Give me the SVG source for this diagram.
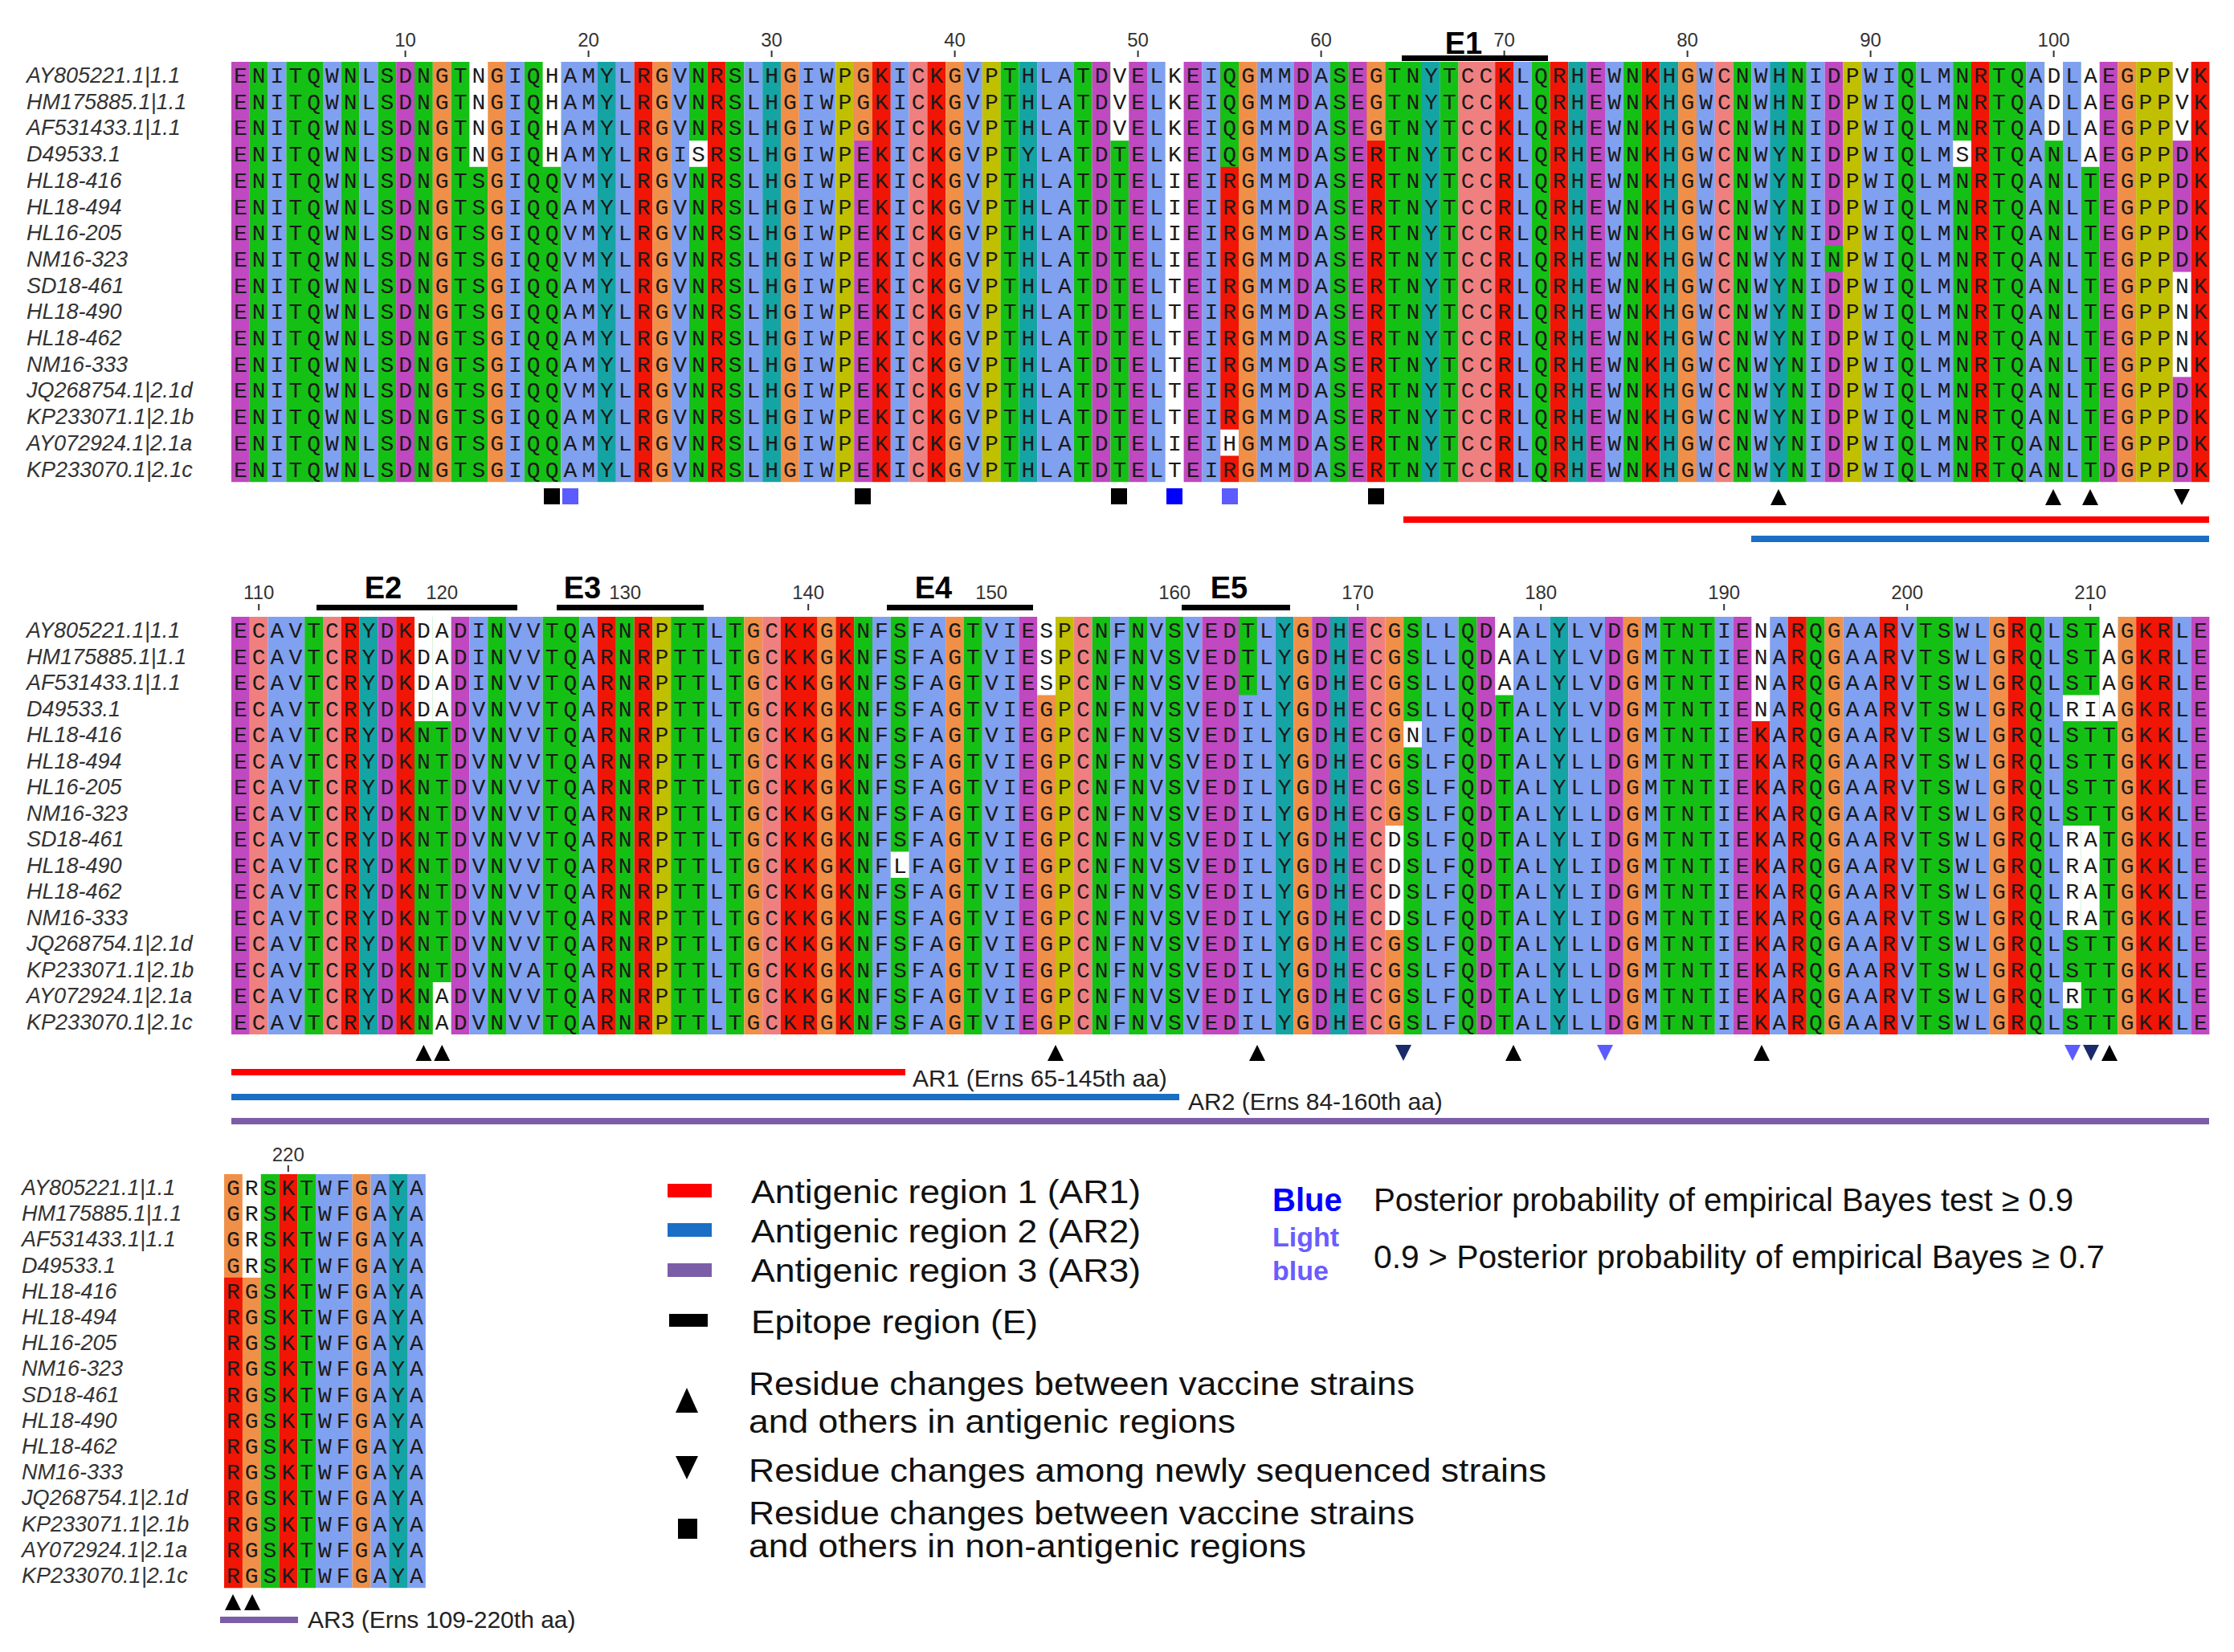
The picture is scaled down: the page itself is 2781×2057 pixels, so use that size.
<svg xmlns="http://www.w3.org/2000/svg" width="2781" height="2057" viewBox="0 0 2781 2057">
<style>
.m{fill:#c048c0}.g{fill:#15c015}.b{fill:#80a0f0}.o{fill:#f09048}.c{fill:#15a4a4}.r{fill:#f01505}.y{fill:#c0c000}.p{fill:#f08080}.w{fill:#ffffff}
.seq{font-family:"Liberation Mono",monospace;font-size:28px;letter-spacing:6px;fill:#1a1a1a}
.lbl{font-family:"Liberation Sans",Arial,sans-serif;font-size:27px;font-style:italic;fill:#333}
.num{font-family:"Liberation Sans",Arial,sans-serif;font-size:24px;fill:#333;text-anchor:middle}
.ep{font-family:"Liberation Sans",Arial,sans-serif;font-size:38px;font-weight:bold;fill:#000;text-anchor:middle}
.ar{font-family:"Liberation Sans",Arial,sans-serif;font-size:30px;fill:#222}
.leg{font-family:"Liberation Sans",Arial,sans-serif;font-size:40px;fill:#111}
.tk{stroke:#333;stroke-width:2}
</style>
<rect width="2781" height="2057" fill="#fff"/>
<g id="block1">
<g transform="translate(288,77) scale(22.8,32.7)">
<rect class="m" x="0" y="0" width="1" height="16"/><rect class="g" x="1" y="0" width="1" height="16"/><rect class="b" x="2" y="0" width="1" height="16"/><rect class="g" x="3" y="0" width="2" height="16"/><rect class="b" x="5" y="0" width="1" height="16"/><rect class="g" x="6" y="0" width="1" height="16"/><rect class="b" x="7" y="0" width="1" height="16"/><rect class="g" x="8" y="0" width="1" height="16"/><rect class="m" x="9" y="0" width="1" height="16"/><rect class="g" x="10" y="0" width="1" height="16"/><rect class="o" x="11" y="0" width="1" height="16"/><rect class="g" x="12" y="0" width="2" height="16"/><rect class="o" x="14" y="0" width="1" height="16"/><rect class="b" x="15" y="0" width="1" height="16"/><rect class="g" x="16" y="0" width="2" height="16"/><rect class="b" x="18" y="0" width="2" height="16"/><rect class="c" x="20" y="0" width="1" height="16"/><rect class="b" x="21" y="0" width="1" height="16"/><rect class="r" x="22" y="0" width="1" height="16"/><rect class="o" x="23" y="0" width="1" height="16"/><rect class="b" x="24" y="0" width="1" height="16"/><rect class="g" x="25" y="0" width="1" height="16"/><rect class="r" x="26" y="0" width="1" height="16"/><rect class="g" x="27" y="0" width="1" height="16"/><rect class="b" x="28" y="0" width="1" height="16"/><rect class="c" x="29" y="0" width="1" height="16"/><rect class="o" x="30" y="0" width="1" height="16"/><rect class="b" x="31" y="0" width="2" height="16"/><rect class="y" x="33" y="0" width="1" height="16"/><rect class="m" x="34" y="0" width="1" height="16"/><rect class="r" x="35" y="0" width="1" height="16"/><rect class="b" x="36" y="0" width="1" height="16"/><rect class="p" x="37" y="0" width="1" height="16"/><rect class="r" x="38" y="0" width="1" height="16"/><rect class="o" x="39" y="0" width="1" height="16"/><rect class="b" x="40" y="0" width="1" height="16"/><rect class="y" x="41" y="0" width="1" height="16"/><rect class="g" x="42" y="0" width="1" height="16"/><rect class="c" x="43" y="0" width="1" height="16"/><rect class="b" x="44" y="0" width="2" height="16"/><rect class="g" x="46" y="0" width="1" height="16"/><rect class="m" x="47" y="0" width="1" height="16"/><rect class="g" x="48" y="0" width="1" height="16"/><rect class="m" x="49" y="0" width="1" height="16"/><rect class="b" x="50" y="0" width="1" height="16"/><rect class="w" x="51" y="0" width="1" height="16"/><rect class="m" x="52" y="0" width="1" height="16"/><rect class="b" x="53" y="0" width="1" height="16"/><rect class="r" x="54" y="0" width="1" height="16"/><rect class="o" x="55" y="0" width="1" height="16"/><rect class="b" x="56" y="0" width="2" height="16"/><rect class="m" x="58" y="0" width="1" height="16"/><rect class="b" x="59" y="0" width="1" height="16"/><rect class="g" x="60" y="0" width="1" height="16"/><rect class="m" x="61" y="0" width="1" height="16"/><rect class="r" x="62" y="0" width="1" height="16"/><rect class="g" x="63" y="0" width="2" height="16"/><rect class="c" x="65" y="0" width="1" height="16"/><rect class="g" x="66" y="0" width="1" height="16"/><rect class="p" x="67" y="0" width="2" height="16"/><rect class="r" x="69" y="0" width="1" height="16"/><rect class="b" x="70" y="0" width="1" height="16"/><rect class="g" x="71" y="0" width="1" height="16"/><rect class="r" x="72" y="0" width="1" height="16"/><rect class="c" x="73" y="0" width="1" height="16"/><rect class="m" x="74" y="0" width="1" height="16"/><rect class="b" x="75" y="0" width="1" height="16"/><rect class="g" x="76" y="0" width="1" height="16"/><rect class="r" x="77" y="0" width="1" height="16"/><rect class="c" x="78" y="0" width="1" height="16"/><rect class="o" x="79" y="0" width="1" height="16"/><rect class="b" x="80" y="0" width="1" height="16"/><rect class="p" x="81" y="0" width="1" height="16"/><rect class="g" x="82" y="0" width="1" height="16"/><rect class="b" x="83" y="0" width="1" height="16"/><rect class="c" x="84" y="0" width="1" height="16"/><rect class="g" x="85" y="0" width="1" height="16"/><rect class="b" x="86" y="0" width="1" height="16"/><rect class="m" x="87" y="0" width="1" height="16"/><rect class="y" x="88" y="0" width="1" height="16"/><rect class="b" x="89" y="0" width="2" height="16"/><rect class="g" x="91" y="0" width="1" height="16"/><rect class="b" x="92" y="0" width="2" height="16"/><rect class="g" x="94" y="0" width="1" height="16"/><rect class="r" x="95" y="0" width="1" height="16"/><rect class="g" x="96" y="0" width="2" height="16"/><rect class="b" x="98" y="0" width="1" height="16"/><rect class="g" x="99" y="0" width="1" height="16"/><rect class="b" x="100" y="0" width="1" height="16"/><rect class="g" x="101" y="0" width="1" height="16"/><rect class="m" x="102" y="0" width="1" height="16"/><rect class="o" x="103" y="0" width="1" height="16"/><rect class="y" x="104" y="0" width="2" height="16"/><rect class="m" x="106" y="0" width="1" height="16"/><rect class="r" x="107" y="0" width="1" height="16"/>
<rect class="w" x="13" y="0" width="1" height="4"/><rect class="w" x="17" y="0" width="1" height="4"/><rect class="w" x="25" y="3" width="1" height="1"/><rect class="o" x="34" y="0" width="1" height="3"/><rect class="w" x="48" y="0" width="1" height="3"/><rect class="g" x="54" y="0" width="1" height="4"/><rect class="w" x="54" y="14" width="1" height="1"/><rect class="o" x="62" y="0" width="1" height="3"/><rect class="g" x="87" y="7" width="1" height="1"/><rect class="w" x="94" y="3" width="1" height="1"/><rect class="w" x="99" y="0" width="1" height="3"/><rect class="w" x="101" y="0" width="1" height="4"/><rect class="w" x="106" y="0" width="1" height="3"/><rect class="w" x="106" y="8" width="1" height="4"/>
</g>
<text class="seq" x="291" y="103">ENITQWNLSDNGTNGIQHAMYLRGVNRSLHGIWPGKICKGVPTHLATDVELKEIQGMMDASEGTNYTCCKLQRHEWNKHGWCNWHNIDPWIQLMNRTQADLAEGPPVK</text>
<text class="seq" x="291" y="135.7">ENITQWNLSDNGTNGIQHAMYLRGVNRSLHGIWPGKICKGVPTHLATDVELKEIQGMMDASEGTNYTCCKLQRHEWNKHGWCNWHNIDPWIQLMNRTQADLAEGPPVK</text>
<text class="seq" x="291" y="168.4">ENITQWNLSDNGTNGIQHAMYLRGVNRSLHGIWPGKICKGVPTHLATDVELKEIQGMMDASEGTNYTCCKLQRHEWNKHGWCNWHNIDPWIQLMNRTQADLAEGPPVK</text>
<text class="seq" x="291" y="201.1">ENITQWNLSDNGTNGIQHAMYLRGISRSLHGIWPEKICKGVPTYLATDTELKEIQGMMDASERTNYTCCKLQRHEWNKHGWCNWYNIDPWIQLMSRTQANLAEGPPDK</text>
<text class="seq" x="291" y="233.8">ENITQWNLSDNGTSGIQQVMYLRGVNRSLHGIWPEKICKGVPTHLATDTELIEIRGMMDASERTNYTCCRLQRHEWNKHGWCNWYNIDPWIQLMNRTQANLTEGPPDK</text>
<text class="seq" x="291" y="266.5">ENITQWNLSDNGTSGIQQAMYLRGVNRSLHGIWPEKICKGVPTHLATDTELIEIRGMMDASERTNYTCCRLQRHEWNKHGWCNWYNIDPWIQLMNRTQANLTEGPPDK</text>
<text class="seq" x="291" y="299.2">ENITQWNLSDNGTSGIQQVMYLRGVNRSLHGIWPEKICKGVPTHLATDTELIEIRGMMDASERTNYTCCRLQRHEWNKHGWCNWYNIDPWIQLMNRTQANLTEGPPDK</text>
<text class="seq" x="291" y="331.9">ENITQWNLSDNGTSGIQQVMYLRGVNRSLHGIWPEKICKGVPTHLATDTELIEIRGMMDASERTNYTCCRLQRHEWNKHGWCNWYNINPWIQLMNRTQANLTEGPPDK</text>
<text class="seq" x="291" y="364.6">ENITQWNLSDNGTSGIQQAMYLRGVNRSLHGIWPEKICKGVPTHLATDTELTEIRGMMDASERTNYTCCRLQRHEWNKHGWCNWYNIDPWIQLMNRTQANLTEGPPNK</text>
<text class="seq" x="291" y="397.3">ENITQWNLSDNGTSGIQQAMYLRGVNRSLHGIWPEKICKGVPTHLATDTELTEIRGMMDASERTNYTCCRLQRHEWNKHGWCNWYNIDPWIQLMNRTQANLTEGPPNK</text>
<text class="seq" x="291" y="430">ENITQWNLSDNGTSGIQQAMYLRGVNRSLHGIWPEKICKGVPTHLATDTELTEIRGMMDASERTNYTCCRLQRHEWNKHGWCNWYNIDPWIQLMNRTQANLTEGPPNK</text>
<text class="seq" x="291" y="462.7">ENITQWNLSDNGTSGIQQAMYLRGVNRSLHGIWPEKICKGVPTHLATDTELTEIRGMMDASERTNYTCCRLQRHEWNKHGWCNWYNIDPWIQLMNRTQANLTEGPPNK</text>
<text class="seq" x="291" y="495.4">ENITQWNLSDNGTSGIQQVMYLRGVNRSLHGIWPEKICKGVPTHLATDTELTEIRGMMDASERTNYTCCRLQRHEWNKHGWCNWYNIDPWIQLMNRTQANLTEGPPDK</text>
<text class="seq" x="291" y="528.1">ENITQWNLSDNGTSGIQQAMYLRGVNRSLHGIWPEKICKGVPTHLATDTELTEIRGMMDASERTNYTCCRLQRHEWNKHGWCNWYNIDPWIQLMNRTQANLTEGPPDK</text>
<text class="seq" x="291" y="560.8">ENITQWNLSDNGTSGIQQAMYLRGVNRSLHGIWPEKICKGVPTHLATDTELIEIHGMMDASERTNYTCCRLQRHEWNKHGWCNWYNIDPWIQLMNRTQANLTEGPPDK</text>
<text class="seq" x="291" y="593.5">ENITQWNLSDNGTSGIQQAMYLRGVNRSLHGIWPEKICKGVPTHLATDTELTEIRGMMDASERTNYTCCRLQRHEWNKHGWCNWYNIDPWIQLMNRTQANLTDGPPDK</text>
</g>
<g id="labels1" class="lbl">
<text x="33" y="103">AY805221.1|1.1</text><text x="33" y="135.7">HM175885.1|1.1</text><text x="33" y="168.4">AF531433.1|1.1</text><text x="33" y="201.1">D49533.1</text><text x="33" y="233.8">HL18-416</text><text x="33" y="266.5">HL18-494</text><text x="33" y="299.2">HL16-205</text><text x="33" y="331.9">NM16-323</text><text x="33" y="364.6">SD18-461</text><text x="33" y="397.3">HL18-490</text><text x="33" y="430">HL18-462</text><text x="33" y="462.7">NM16-333</text><text x="33" y="495.4">JQ268754.1|2.1d</text><text x="33" y="528.1">KP233071.1|2.1b</text><text x="33" y="560.8">AY072924.1|2.1a</text><text x="33" y="593.5">KP233070.1|2.1c</text>
</g>
<g id="ruler1">
<text class="num" x="504.6" y="58">10</text><text class="num" x="732.6" y="58">20</text><text class="num" x="960.6" y="58">30</text><text class="num" x="1188.6" y="58">40</text><text class="num" x="1416.6" y="58">50</text><text class="num" x="1644.6" y="58">60</text><text class="num" x="1872.6" y="58">70</text><text class="num" x="2100.6" y="58">80</text><text class="num" x="2328.6" y="58">90</text><text class="num" x="2556.6" y="58">100</text>
<path class="tk" d="M504.6 63v8M732.6 63v8M960.6 63v8M1188.6 63v8M1416.6 63v8M1644.6 63v8M1872.6 63v8M2100.6 63v8M2328.6 63v8M2556.6 63v8"/>
<rect x="1745" y="69" width="182" height="7" fill="#000"/><text class="ep" x="1822" y="67">E1</text>
</g>
<g id="marks1">
<rect x="677" y="608" width="20" height="20" fill="#000"/><rect x="700" y="608" width="20" height="20" fill="#5b5bff"/><rect x="1064" y="608" width="20" height="20" fill="#000"/><rect x="1383" y="608" width="20" height="20" fill="#000"/><rect x="1452" y="608" width="20" height="20" fill="#0000ff"/><rect x="1521" y="608" width="20" height="20" fill="#5b5bff"/><rect x="1703" y="608" width="20" height="20" fill="#000"/>
<path d="M2214 609l10 20h-20zM2556 609l10 20h-20zM2602 609l10 20h-20z" fill="#000"/><path d="M2706 609h20l-10 20z" fill="#000"/>
<rect x="1747" y="643" width="1003" height="8" fill="#ff0000"/><rect x="2180" y="667" width="570" height="8" fill="#1a6fc4"/>
</g>
<g id="block2">
<g transform="translate(288,768) scale(22.8,32.5)">
<rect class="m" x="0" y="0" width="1" height="16"/><rect class="p" x="1" y="0" width="1" height="16"/><rect class="b" x="2" y="0" width="2" height="16"/><rect class="g" x="4" y="0" width="1" height="16"/><rect class="p" x="5" y="0" width="1" height="16"/><rect class="r" x="6" y="0" width="1" height="16"/><rect class="c" x="7" y="0" width="1" height="16"/><rect class="m" x="8" y="0" width="1" height="16"/><rect class="r" x="9" y="0" width="1" height="16"/><rect class="g" x="10" y="0" width="2" height="16"/><rect class="m" x="12" y="0" width="1" height="16"/><rect class="b" x="13" y="0" width="1" height="16"/><rect class="g" x="14" y="0" width="1" height="16"/><rect class="b" x="15" y="0" width="2" height="16"/><rect class="g" x="17" y="0" width="2" height="16"/><rect class="b" x="19" y="0" width="1" height="16"/><rect class="r" x="20" y="0" width="1" height="16"/><rect class="g" x="21" y="0" width="1" height="16"/><rect class="r" x="22" y="0" width="1" height="16"/><rect class="y" x="23" y="0" width="1" height="16"/><rect class="g" x="24" y="0" width="2" height="16"/><rect class="b" x="26" y="0" width="1" height="16"/><rect class="g" x="27" y="0" width="1" height="16"/><rect class="o" x="28" y="0" width="1" height="16"/><rect class="p" x="29" y="0" width="1" height="16"/><rect class="r" x="30" y="0" width="2" height="16"/><rect class="o" x="32" y="0" width="1" height="16"/><rect class="r" x="33" y="0" width="1" height="16"/><rect class="g" x="34" y="0" width="1" height="16"/><rect class="b" x="35" y="0" width="1" height="16"/><rect class="g" x="36" y="0" width="1" height="16"/><rect class="b" x="37" y="0" width="2" height="16"/><rect class="o" x="39" y="0" width="1" height="16"/><rect class="g" x="40" y="0" width="1" height="16"/><rect class="b" x="41" y="0" width="2" height="16"/><rect class="m" x="43" y="0" width="1" height="16"/><rect class="o" x="44" y="0" width="1" height="16"/><rect class="y" x="45" y="0" width="1" height="16"/><rect class="p" x="46" y="0" width="1" height="16"/><rect class="g" x="47" y="0" width="1" height="16"/><rect class="b" x="48" y="0" width="1" height="16"/><rect class="g" x="49" y="0" width="1" height="16"/><rect class="b" x="50" y="0" width="1" height="16"/><rect class="g" x="51" y="0" width="1" height="16"/><rect class="b" x="52" y="0" width="1" height="16"/><rect class="m" x="53" y="0" width="2" height="16"/><rect class="b" x="55" y="0" width="2" height="16"/><rect class="c" x="57" y="0" width="1" height="16"/><rect class="o" x="58" y="0" width="1" height="16"/><rect class="m" x="59" y="0" width="1" height="16"/><rect class="c" x="60" y="0" width="1" height="16"/><rect class="m" x="61" y="0" width="1" height="16"/><rect class="p" x="62" y="0" width="1" height="16"/><rect class="o" x="63" y="0" width="1" height="16"/><rect class="g" x="64" y="0" width="1" height="16"/><rect class="b" x="65" y="0" width="2" height="16"/><rect class="g" x="67" y="0" width="1" height="16"/><rect class="m" x="68" y="0" width="1" height="16"/><rect class="g" x="69" y="0" width="1" height="16"/><rect class="b" x="70" y="0" width="2" height="16"/><rect class="c" x="72" y="0" width="1" height="16"/><rect class="b" x="73" y="0" width="2" height="16"/><rect class="m" x="75" y="0" width="1" height="16"/><rect class="o" x="76" y="0" width="1" height="16"/><rect class="b" x="77" y="0" width="1" height="16"/><rect class="g" x="78" y="0" width="3" height="16"/><rect class="b" x="81" y="0" width="1" height="16"/><rect class="m" x="82" y="0" width="1" height="16"/><rect class="r" x="83" y="0" width="1" height="16"/><rect class="b" x="84" y="0" width="1" height="16"/><rect class="r" x="85" y="0" width="1" height="16"/><rect class="g" x="86" y="0" width="1" height="16"/><rect class="o" x="87" y="0" width="1" height="16"/><rect class="b" x="88" y="0" width="2" height="16"/><rect class="r" x="90" y="0" width="1" height="16"/><rect class="b" x="91" y="0" width="1" height="16"/><rect class="g" x="92" y="0" width="2" height="16"/><rect class="b" x="94" y="0" width="2" height="16"/><rect class="o" x="96" y="0" width="1" height="16"/><rect class="r" x="97" y="0" width="1" height="16"/><rect class="g" x="98" y="0" width="1" height="16"/><rect class="b" x="99" y="0" width="1" height="16"/><rect class="g" x="100" y="0" width="3" height="16"/><rect class="o" x="103" y="0" width="1" height="16"/><rect class="r" x="104" y="0" width="2" height="16"/><rect class="b" x="106" y="0" width="1" height="16"/><rect class="m" x="107" y="0" width="1" height="16"/>
<rect class="w" x="10" y="0" width="1" height="4"/><rect class="w" x="11" y="0" width="1" height="4"/><rect class="w" x="11" y="14" width="1" height="2"/><rect class="w" x="36" y="9" width="1" height="1"/><rect class="w" x="44" y="0" width="1" height="3"/><rect class="g" x="55" y="0" width="1" height="3"/><rect class="w" x="63" y="8" width="1" height="4"/><rect class="w" x="64" y="4" width="1" height="1"/><rect class="w" x="69" y="0" width="1" height="3"/><rect class="w" x="83" y="0" width="1" height="4"/><rect class="w" x="100" y="3" width="1" height="1"/><rect class="w" x="100" y="8" width="1" height="4"/><rect class="w" x="100" y="14" width="1" height="1"/><rect class="w" x="101" y="3" width="1" height="1"/><rect class="w" x="101" y="8" width="1" height="4"/><rect class="w" x="102" y="0" width="1" height="4"/>
</g>
<text class="seq" x="291" y="794">ECAVTCRYDKDADINVVTQARNRPTTLTGCKKGKNFSFAGTVIESPCNFNVSVEDTLYGDHECGSLLQDAALYLVDGMTNTIENARQGAARVTSWLGRQLSTAGKRLE</text>
<text class="seq" x="291" y="826.5">ECAVTCRYDKDADINVVTQARNRPTTLTGCKKGKNFSFAGTVIESPCNFNVSVEDTLYGDHECGSLLQDAALYLVDGMTNTIENARQGAARVTSWLGRQLSTAGKRLE</text>
<text class="seq" x="291" y="859">ECAVTCRYDKDADINVVTQARNRPTTLTGCKKGKNFSFAGTVIESPCNFNVSVEDTLYGDHECGSLLQDAALYLVDGMTNTIENARQGAARVTSWLGRQLSTAGKRLE</text>
<text class="seq" x="291" y="891.5">ECAVTCRYDKDADVNVVTQARNRPTTLTGCKKGKNFSFAGTVIEGPCNFNVSVEDILYGDHECGSLLQDTALYLVDGMTNTIENARQGAARVTSWLGRQLRIAGKRLE</text>
<text class="seq" x="291" y="924">ECAVTCRYDKNTDVNVVTQARNRPTTLTGCKKGKNFSFAGTVIEGPCNFNVSVEDILYGDHECGNLFQDTALYLLDGMTNTIEKARQGAARVTSWLGRQLSTTGKKLE</text>
<text class="seq" x="291" y="956.5">ECAVTCRYDKNTDVNVVTQARNRPTTLTGCKKGKNFSFAGTVIEGPCNFNVSVEDILYGDHECGSLFQDTALYLLDGMTNTIEKARQGAARVTSWLGRQLSTTGKKLE</text>
<text class="seq" x="291" y="989">ECAVTCRYDKNTDVNVVTQARNRPTTLTGCKKGKNFSFAGTVIEGPCNFNVSVEDILYGDHECGSLFQDTALYLLDGMTNTIEKARQGAARVTSWLGRQLSTTGKKLE</text>
<text class="seq" x="291" y="1021.5">ECAVTCRYDKNTDVNVVTQARNRPTTLTGCKKGKNFSFAGTVIEGPCNFNVSVEDILYGDHECGSLFQDTALYLLDGMTNTIEKARQGAARVTSWLGRQLSTTGKKLE</text>
<text class="seq" x="291" y="1054">ECAVTCRYDKNTDVNVVTQARNRPTTLTGCKKGKNFSFAGTVIEGPCNFNVSVEDILYGDHECDSLFQDTALYLIDGMTNTIEKARQGAARVTSWLGRQLRATGKKLE</text>
<text class="seq" x="291" y="1086.5">ECAVTCRYDKNTDVNVVTQARNRPTTLTGCKKGKNFLFAGTVIEGPCNFNVSVEDILYGDHECDSLFQDTALYLIDGMTNTIEKARQGAARVTSWLGRQLRATGKKLE</text>
<text class="seq" x="291" y="1119">ECAVTCRYDKNTDVNVVTQARNRPTTLTGCKKGKNFSFAGTVIEGPCNFNVSVEDILYGDHECDSLFQDTALYLIDGMTNTIEKARQGAARVTSWLGRQLRATGKKLE</text>
<text class="seq" x="291" y="1151.5">ECAVTCRYDKNTDVNVVTQARNRPTTLTGCKKGKNFSFAGTVIEGPCNFNVSVEDILYGDHECDSLFQDTALYLIDGMTNTIEKARQGAARVTSWLGRQLRATGKKLE</text>
<text class="seq" x="291" y="1184">ECAVTCRYDKNTDVNVVTQARNRPTTLTGCKKGKNFSFAGTVIEGPCNFNVSVEDILYGDHECGSLFQDTALYLLDGMTNTIEKARQGAARVTSWLGRQLSTTGKKLE</text>
<text class="seq" x="291" y="1216.5">ECAVTCRYDKNTDVNVATQARNRPTTLTGCKKGKNFSFAGTVIEGPCNFNVSVEDILYGDHECGSLFQDTALYLLDGMTNTIEKARQGAARVTSWLGRQLSTTGKKLE</text>
<text class="seq" x="291" y="1249">ECAVTCRYDKNADVNVVTQARNRPTTLTGCKKGKNFSFAGTVIEGPCNFNVSVEDILYGDHECGSLFQDTALYLLDGMTNTIEKARQGAARVTSWLGRQLRTTGKKLE</text>
<text class="seq" x="291" y="1281.5">ECAVTCRYDKNADVNVVTQARNRPTTLTGCKRGKNFSFAGTVIEGPCNFNVSVEDILYGDHECGSLFQDTALYLLDGMTNTIEKARQGAARVTSWLGRQLSTTGKKLE</text>
</g>
<g id="labels2" class="lbl">
<text x="33" y="794">AY805221.1|1.1</text><text x="33" y="826.5">HM175885.1|1.1</text><text x="33" y="859">AF531433.1|1.1</text><text x="33" y="891.5">D49533.1</text><text x="33" y="924">HL18-416</text><text x="33" y="956.5">HL18-494</text><text x="33" y="989">HL16-205</text><text x="33" y="1021.5">NM16-323</text><text x="33" y="1054">SD18-461</text><text x="33" y="1086.5">HL18-490</text><text x="33" y="1119">HL18-462</text><text x="33" y="1151.5">NM16-333</text><text x="33" y="1184">JQ268754.1|2.1d</text><text x="33" y="1216.5">KP233071.1|2.1b</text><text x="33" y="1249">AY072924.1|2.1a</text><text x="33" y="1281.5">KP233070.1|2.1c</text>
</g>
<g id="ruler2">
<text class="num" x="322.2" y="746">110</text><text class="num" x="550.2" y="746">120</text><text class="num" x="778.2" y="746">130</text><text class="num" x="1006.2" y="746">140</text><text class="num" x="1234.2" y="746">150</text><text class="num" x="1462.2" y="746">160</text><text class="num" x="1690.2" y="746">170</text><text class="num" x="1918.2" y="746">180</text><text class="num" x="2146.2" y="746">190</text><text class="num" x="2374.2" y="746">200</text><text class="num" x="2602.2" y="746">210</text>
<path class="tk" d="M322.2 752v8M1006.2 752v8M1690.2 752v8M1918.2 752v8M2146.2 752v8M2374.2 752v8M2602.2 752v8"/>
<rect x="394" y="753" width="250" height="7" fill="#000"/><text class="ep" x="477" y="745">E2</text>
<rect x="693" y="753" width="183" height="7" fill="#000"/><text class="ep" x="725" y="745">E3</text>
<rect x="1104" y="753" width="182" height="7" fill="#000"/><text class="ep" x="1162" y="745">E4</text>
<rect x="1471" y="753" width="135" height="7" fill="#000"/><text class="ep" x="1530" y="745">E5</text>
</g>
<g id="marks2">
<path d="M527.4 1301l10 20h-20zM550.2 1301l10 20h-20zM1314 1301l10 20h-20zM1565 1301l10 20h-20zM1884 1301l10 20h-20zM2193 1301l10 20h-20zM2626 1301l10 20h-20z" fill="#000"/>
<path d="M1737 1301h20l-10 20zM2593 1301h20l-10 20z" fill="#1a2a6a"/>
<path d="M1988 1301h20l-10 20zM2570 1301h20l-10 20z" fill="#5b5bff"/>
<rect x="288" y="1331" width="839" height="8" fill="#ff0000"/><text class="ar" x="1136" y="1353">AR1 (Erns 65-145th aa)</text>
<rect x="288" y="1362" width="1180" height="8" fill="#1a6fc4"/><text class="ar" x="1479" y="1382">AR2 (Erns 84-160th aa)</text>
<rect x="288" y="1392" width="2462" height="8" fill="#7b5ea7"/>
</g>
<g id="block3">
<g transform="translate(279,1462) scale(22.8,32.2)">
<rect class="o" x="0" y="0" width="2" height="16"/><rect class="g" x="2" y="0" width="1" height="16"/><rect class="r" x="3" y="0" width="1" height="16"/><rect class="g" x="4" y="0" width="1" height="16"/><rect class="b" x="5" y="0" width="2" height="16"/><rect class="o" x="7" y="0" width="1" height="16"/><rect class="b" x="8" y="0" width="1" height="16"/><rect class="c" x="9" y="0" width="1" height="16"/><rect class="b" x="10" y="0" width="1" height="16"/>
<rect class="r" x="0" y="4" width="1" height="12"/><rect class="w" x="1" y="0" width="1" height="4"/>
</g>
<text class="seq" x="282" y="1488">GRSKTWFGAYA</text><text class="seq" x="282" y="1520.2">GRSKTWFGAYA</text><text class="seq" x="282" y="1552.4">GRSKTWFGAYA</text><text class="seq" x="282" y="1584.6">GRSKTWFGAYA</text>
<text class="seq" x="282" y="1616.8">RGSKTWFGAYA</text><text class="seq" x="282" y="1649">RGSKTWFGAYA</text><text class="seq" x="282" y="1681.2">RGSKTWFGAYA</text><text class="seq" x="282" y="1713.4">RGSKTWFGAYA</text><text class="seq" x="282" y="1745.6">RGSKTWFGAYA</text><text class="seq" x="282" y="1777.8">RGSKTWFGAYA</text><text class="seq" x="282" y="1810">RGSKTWFGAYA</text><text class="seq" x="282" y="1842.2">RGSKTWFGAYA</text><text class="seq" x="282" y="1874.4">RGSKTWFGAYA</text><text class="seq" x="282" y="1906.6">RGSKTWFGAYA</text><text class="seq" x="282" y="1938.8">RGSKTWFGAYA</text><text class="seq" x="282" y="1971">RGSKTWFGAYA</text>
<text class="num" x="358.8" y="1446">220</text><path class="tk" d="M358.8 1451v8"/>
<path d="M290 1985l10 20h-20zM314 1985l10 20h-20z" fill="#000"/>
<rect x="274" y="2013" width="97" height="8" fill="#7b5ea7"/><text class="ar" x="383" y="2027">AR3 (Erns 109-220th aa)</text>
</g>
<g id="labels3" class="lbl">
<text x="27" y="1488">AY805221.1|1.1</text><text x="27" y="1520.2">HM175885.1|1.1</text><text x="27" y="1552.4">AF531433.1|1.1</text><text x="27" y="1584.6">D49533.1</text><text x="27" y="1616.8">HL18-416</text><text x="27" y="1649">HL18-494</text><text x="27" y="1681.2">HL16-205</text><text x="27" y="1713.4">NM16-323</text><text x="27" y="1745.6">SD18-461</text><text x="27" y="1777.8">HL18-490</text><text x="27" y="1810">HL18-462</text><text x="27" y="1842.2">NM16-333</text><text x="27" y="1874.4">JQ268754.1|2.1d</text><text x="27" y="1906.6">KP233071.1|2.1b</text><text x="27" y="1938.8">AY072924.1|2.1a</text><text x="27" y="1971">KP233070.1|2.1c</text>
</g>
<g id="legend">
<rect x="831" y="1474" width="55" height="17" fill="#ff0000"/><text class="leg" x="935" y="1498" textLength="485" lengthAdjust="spacingAndGlyphs">Antigenic region 1 (AR1)</text>
<rect x="831" y="1523" width="55" height="17" fill="#1a6fc4"/><text class="leg" x="935" y="1547" textLength="485" lengthAdjust="spacingAndGlyphs">Antigenic region 2 (AR2)</text>
<rect x="831" y="1573" width="55" height="17" fill="#7b5ea7"/><text class="leg" x="935" y="1596" textLength="485" lengthAdjust="spacingAndGlyphs">Antigenic region 3 (AR3)</text>
<rect x="833" y="1636" width="48" height="16" fill="#000"/><text class="leg" x="935" y="1660" textLength="357" lengthAdjust="spacingAndGlyphs">Epitope region (E)</text>
<path d="M855 1728l14 31h-28z" fill="#000"/>
<text class="leg" x="932" y="1737" textLength="829" lengthAdjust="spacingAndGlyphs">Residue changes between vaccine strains</text>
<text class="leg" x="932" y="1784" textLength="606" lengthAdjust="spacingAndGlyphs">and others in antigenic regions</text>
<path d="M841 1813h28l-14 29z" fill="#000"/>
<text class="leg" x="932" y="1845" textLength="993" lengthAdjust="spacingAndGlyphs">Residue changes among newly sequenced strains</text>
<rect x="844" y="1891" width="24" height="25" fill="#000"/>
<text class="leg" x="932" y="1898" textLength="829" lengthAdjust="spacingAndGlyphs">Residue changes between vaccine strains</text>
<text class="leg" x="932" y="1939" textLength="694" lengthAdjust="spacingAndGlyphs">and others in non-antigenic regions</text>
<text class="leg" x="1584" y="1508" font-weight="bold" style="fill:#0000ff" font-size="36">Blue</text>
<text class="leg" x="1710" y="1508" textLength="871" lengthAdjust="spacingAndGlyphs">Posterior probability of empirical Bayes test ≥ 0.9</text>
<text class="leg" x="1584" y="1552" font-weight="bold" style="fill:#6a5cff;font-size:34px">Light</text>
<text class="leg" x="1584" y="1594" font-weight="bold" style="fill:#6a5cff;font-size:34px">blue</text>
<text class="leg" x="1710" y="1579" textLength="910" lengthAdjust="spacingAndGlyphs">0.9 &gt; Posterior probability of empirical Bayes ≥ 0.7</text>
</g>
</svg>
